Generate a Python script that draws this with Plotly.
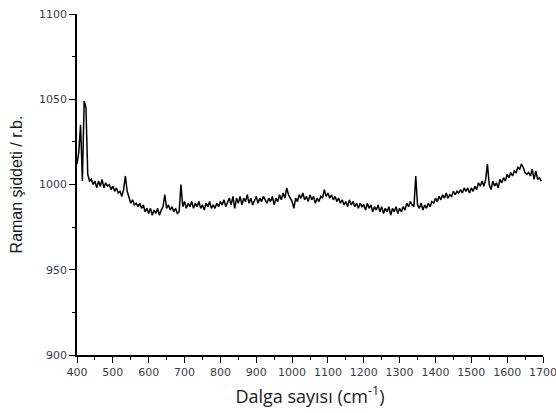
import plotly.graph_objects as go

wavenumber_start = 400
wavenumber_step = 5

intensity = [
    # 400-495
    1012, 1019, 1035, 1002, 1049, 1045, 1006, 1002, 1003, 1000,
    1002, 998, 1002, 999, 1003, 998, 1001, 999, 1000, 997,
    # 500-595
    999, 996, 998, 995, 996, 993, 997, 1005, 996, 993,
    989, 991, 988, 989, 987, 989, 986, 988, 984, 986,
    # 600-695
    983, 986, 982, 985, 983, 986, 982, 985, 987, 994,
    986, 988, 985, 987, 984, 986, 983, 984, 1000, 987,
    # 700-795
    990, 986, 989, 987, 990, 986, 989, 987, 990, 986,
    988, 985, 989, 987, 990, 986, 988, 986, 989, 987,
    # 800-895
    990, 988, 991, 987, 990, 992, 988, 993, 986, 992,
    989, 993, 988, 992, 990, 994, 989, 992, 988, 991,
    # 900-995
    993, 989, 992, 990, 993, 991, 989, 992, 990, 993,
    988, 992, 990, 994, 991, 995, 992, 998, 994, 992,
    # 1000-1095
    990, 986, 992, 990, 994, 992, 995, 991, 993, 990,
    994, 991, 993, 989, 992, 990, 993, 992, 997, 993,
    # 1100-1195
    995, 992, 994, 991, 993, 990, 992, 989, 991, 988,
    990, 987, 991, 988, 990, 987, 989, 986, 989, 987,
    # 1200-1295
    988, 985, 989, 986, 988, 984, 987, 985, 988, 984,
    987, 983, 986, 984, 987, 982, 986, 984, 987, 983,
    # 1300-1395
    986, 984, 987, 985, 989, 987, 990, 988, 987, 1005,
    988, 986, 989, 985, 988, 986, 989, 987, 990, 989,
    # 1400-1495
    992, 990, 993, 991, 994, 992, 995, 992, 994, 993,
    996, 994, 996, 995, 997, 995, 998, 996, 998, 995,
    # 1500-1595
    998, 996, 999, 997, 1001, 999, 1002, 999, 1003, 1012,
    1000, 997, 1002, 999, 1001, 998, 1003, 1001, 1004, 1002,
    # 1600-1695
    1006, 1004, 1007, 1005, 1008, 1007, 1010, 1009, 1012, 1010,
    1007, 1006, 1007, 1005, 1009, 1003, 1008, 1003, 1004, 1002,
]
wavenumber = [wavenumber_start + i * wavenumber_step for i in range(len(intensity))]

x_ticks = [400, 500, 600, 700, 800, 900, 1000, 1100, 1200, 1300, 1400, 1500, 1600, 1700]
y_ticks = [900, 950, 1000, 1050, 1100]

fig = go.Figure()
fig.add_trace(go.Scatter(x=wavenumber, y=intensity, mode="lines",
                         line=dict(color="black", width=1.5), showlegend=False))

tickfont = dict(family="DejaVu Sans", size=11, color="#3a3a48")

fig.update_layout(
    width=556, height=413,
    margin=dict(l=77, r=13, t=14, b=58),
    paper_bgcolor="white", plot_bgcolor="white",
    xaxis=dict(
        range=[400, 1700], tickvals=x_ticks, ticks="outside", ticklen=6, tickwidth=1.3,
        tickcolor="black", showline=True, linecolor="black", linewidth=1.5,
        showgrid=False, zeroline=False, tickfont=tickfont, automargin=False,
        ticklabeloverflow="allow",
        minor=dict(dtick=50, tick0=450, ticks="outside", ticklen=3, tickwidth=1.2, tickcolor="black"),
        title=dict(text="Dalga sayısı (cm<sup>-1</sup>)",
                   font=dict(family="Open Sans", size=18, color="#1a1a1a"), standoff=12),
    ),
    yaxis=dict(
        range=[900, 1100], tickvals=y_ticks, ticks="outside", ticklen=6, tickwidth=1.3,
        tickcolor="black", showline=True, linecolor="black", linewidth=1.5,
        showgrid=False, zeroline=False, tickfont=tickfont, automargin=False,
        ticklabeloverflow="allow",
        minor=dict(dtick=25, tick0=925, ticks="outside", ticklen=3, tickwidth=1.2, tickcolor="black"),
        title=dict(text="Raman şiddeti / r.b.",
                   font=dict(family="Liberation Sans", size=16, color="#1a1a1a"), standoff=12),
    ),
)

fig.write_html("out.html")
